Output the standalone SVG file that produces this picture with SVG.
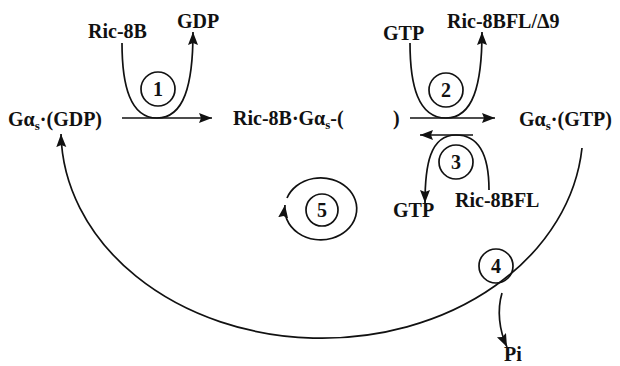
<svg xmlns="http://www.w3.org/2000/svg" width="620" height="366" viewBox="0 0 620 366">
  <style>
    text { font-family: "Liberation Serif", "Times New Roman", serif; font-weight: bold; font-size: 20px; fill: #111; }
    .sub { font-size: 13px; }
    .num { font-size: 20px; text-anchor: middle; }
    .ln { fill: none; stroke: #111; stroke-width: 1.7; }
    .ring { fill: none; stroke: #111; stroke-width: 1.7; }
  </style>
  <defs>
    <marker id="ah" markerUnits="userSpaceOnUse" markerWidth="15" markerHeight="12" refX="13" refY="5" orient="auto">
      <path d="M0,0 L13,5 L0,10 L2,5 z" fill="#111"/>
    </marker>
  </defs>

  <rect width="620" height="366" fill="#fff"/>

  <!-- species -->
  <g id="gs-gdp">
    <text x="8" y="126">G<tspan>α</tspan><tspan class="sub" dy="4">s</tspan><tspan dy="-4">·(GDP)</tspan></text>
  </g>
  <g id="complex">
    <text x="233" y="125">Ric-8B·G<tspan>α</tspan><tspan class="sub" dy="4">s</tspan><tspan dy="-4">-(</tspan></text>
    <text x="393" y="125">)</text>
  </g>
  <g id="gs-gtp">
    <text x="519" y="126">G<tspan>α</tspan><tspan class="sub" dy="4">s</tspan><tspan dy="-4">·(GTP)</tspan></text>
  </g>
  <g id="ric8b-in"><text x="88" y="38">Ric-8B</text></g>
  <g id="gdp-out"><text x="177" y="28">GDP</text></g>
  <g id="gtp-in"><text x="383" y="40">GTP</text></g>
  <g id="ric8bfl-out"><text x="447" y="28">Ric-8BFL/Δ9</text></g>
  <g id="gtp-out"><text x="393" y="217">GTP</text></g>
  <g id="ric8bfl-in"><text x="455" y="207">Ric-8BFL</text></g>
  <g id="pi"><text x="504" y="361">Pi</text></g>

  <!-- step numbers -->
  <g id="step1"><circle class="ring" cx="158" cy="89" r="17"/><text class="num" x="158" y="96">1</text></g>
  <g id="step2"><circle class="ring" cx="446" cy="90" r="17"/><text class="num" x="446" y="97">2</text></g>
  <g id="step3"><circle class="ring" cx="456" cy="162" r="17"/><text class="num" x="456" y="169">3</text></g>
  <g id="step4"><circle class="ring" cx="496" cy="266" r="17"/><text class="num" x="496" y="273">4</text></g>
  <g id="step5"><circle class="ring" cx="322" cy="210" r="16"/><text class="num" x="322" y="217">5</text></g>

  <!-- reaction arrows -->
  <g id="connectors">
    <path class="ln" d="M122,118 L212,118" marker-end="url(#ah)"/>
    <path class="ln" d="M122,43 C122,85 130,118 157,118 C184,118 193,85 193,32" marker-end="url(#ah)"/>

    <path class="ln" d="M410,118 L495,118" marker-end="url(#ah)"/>
    <path class="ln" d="M410,43 C410,85 418,118 446,118 C473,118 482,85 482,32" marker-end="url(#ah)"/>

    <path class="ln" d="M473,135 L420,135" marker-end="url(#ah)"/>
    <path class="ln" d="M489,190 C489,160 482,135 456,135 C430,135 425,165 425,203" marker-end="url(#ah)"/>

    <path class="ln" d="M582,148 A261,208 0 0,1 61,134" marker-end="url(#ah)"/>
    <path class="ln" d="M502,293 C497,310 499,330 507,347" marker-end="url(#ah)"/>

    <path class="ln" d="M287,198 A36,31 0 1,1 285,205" marker-end="url(#ah)"/>
  </g>
</svg>
